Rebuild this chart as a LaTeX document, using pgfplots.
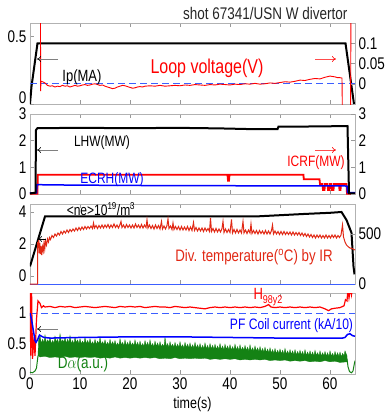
\documentclass[border=0pt]{standalone}
\usepackage{fontspec}
\setmainfont{Liberation Sans}
\usepackage{graphicx}
\usepackage{pgfplots}
\pgfplotsset{compat=1.18}
\usetikzlibrary{arrows.meta}
\definecolor{tred}{RGB}{225,40,20}
\definecolor{dgreen}{RGB}{20,130,20}
\definecolor{lblue}{RGB}{60,95,255}
\newcommand\T[1]{\scalebox{1}[1.25]{#1}}
\pgfplotsset{
  panel/.style={scale only axis, width=325pt, xmin=0, xmax=65, xtick={0,10,...,60},
    tick align=inside, axis line style={gray!60}, major tick style={gray!80, line width=0.5pt},
    major tick length=4pt, anchor=south west,
    tick label style={font=\fontsize{13.5}{16}\selectfont, inner ysep=0.5pt}},
  leftp/.style={panel, ytick pos=left, xtick pos=both, xticklabels={}},
  rightp/.style={panel, axis line style={draw=none}, ytick pos=right, xtick=\empty},
}
\begin{document}
\begin{tikzpicture}
\useasboundingbox (0,0) rectangle (388pt,-416pt);
% ---------------- Panel 1 ----------------
\begin{axis}[leftp, at={(30pt,-104pt)}, height=81pt, ymin=0, ymax=0.6,
  ytick={0.5}, yticklabels={\T{0.5}},
  extra y ticks={0}, extra y tick labels={\T{0}},
  extra y tick style={yticklabel style={yshift=6pt}}]
\addplot[black, line width=2pt] coordinates {(0,0)(0.3,0.13)(1.5,0.45)(63.1,0.45)(64.8,0)};
\end{axis}
\begin{axis}[rightp, at={(30pt,-104pt)}, height=81pt, ymin=-0.05, ymax=0.15,
  ytick={0,0.05,0.1}, yticklabels={\T{0},\T{0.05},\T{0.1}}]
\addplot[draw=lblue, dash pattern=on 7pt off 4pt, line width=1.2pt] coordinates {(0,0)(65,0)};
\addplot[red, line width=0.9pt] coordinates {(2.1,0.2)(2.12,-0.018)(2.2,0.006)(2.5,0.005)(3,0.002)(3.5,-0.004)(4,-0.006)(4.5,-0.005)(5,-0.008)(5.5,-0.006)(6,-0.007)(6.5,-0.004)(7,-0.006)(7.5,-0.005)(8,-0.008)(8.5,-0.006)(9,-0.004)(9.5,-0.006)(10,-0.005)(10.5,-0.003)(11,-0.002)(11.5,-0.004)(12,-0.003)(12.5,-0.001)(13,0.000)(13.5,-0.002)(14,-0.004)(14.5,-0.003)(15,-0.006)(15.5,-0.008)(16,-0.010)(16.5,-0.012)(17,-0.011)(17.5,-0.008)(18,-0.006)(18.5,-0.004)(19,-0.005)(19.5,-0.007)(20,-0.009)(20.5,-0.011)(21,-0.010)(21.5,-0.008)(22,-0.007)(22.5,-0.008)(23,-0.006)(24,-0.005)(25,-0.006)(26,-0.004)(27,-0.006)(28,-0.005)(29,-0.004)(30,-0.005)(31,-0.003)(32,-0.004)(33,-0.002)(34,-0.003)(35,-0.004)(36,-0.002)(37,-0.003)(38,-0.001)(39,-0.002)(40,-0.003)(41,-0.001)(42,-0.002)(43,0.000)(44,-0.001)(45,0.001)(46,-0.001)(47,0.000)(48,0.002)(49,0.001)(50,0.003)(51,0.005)(52,0.004)(53,0.006)(54,0.009)(55,0.008)(56,0.011)(57,0.013)(58,0.012)(59,0.016)(60,0.019)(60.5,0.018)(61,0.017)(61.5,0.015)(62,0.015)(62.4,0.014)(62.5,-0.1)(64.1,-0.1)(64.2,0.2)};
\end{axis}
% ---------------- Panel 2 ----------------
\begin{axis}[leftp, at={(30pt,-194pt)}, height=80pt, ymin=0, ymax=3,
  ytick={0,1,2,3}, yticklabels={\T{0},\T{1},\T{2},\T{3}}]
\addplot[red, line width=1.8pt] coordinates {(0,0.01)(1.5,0.01)(1.55,0.72)(39.5,0.72)(39.6,0.5)(39.8,0.5)(39.9,0.72)(54.7,0.72)(54.75,0.55)(57.9,0.55)(58,0.37)(58.5,0.37)(58.6,0.15)(58.9,0.15)(59,0.37)(59.5,0.37)(59.6,0.15)(59.9,0.15)(60,0.37)(60.3,0.37)(60.4,0.15)(60.7,0.15)(60.8,0.37)(61.8,0.37)(61.9,0.15)(62.1,0.15)(62.2,0.37)(63.3,0.37)(63.4,0.01)(65,0.01)};
\addplot[blue, line width=1.5pt] coordinates {(0,0.04)(1.3,0.04)(1.4,0.35)(5,0.34)(20,0.32)(40,0.31)(63.4,0.3)(63.5,0.05)(65,0.05)};
\addplot[black, line width=2pt] coordinates {(0,0.02)(1.1,0.05)(1.2,2.4)(1.5,2.47)(10,2.48)(20,2.47)(30,2.48)(38,2.46)(45,2.43)(49.5,2.43)(49.7,2.53)(55,2.53)(60,2.54)(63.5,2.55)(63.8,0.03)(65,0.02)};
\end{axis}
\begin{axis}[rightp, at={(30pt,-194pt)}, height=80pt, ymin=0, ymax=3,
  ytick={0,1,2,3}, yticklabels={\T{0},\T{1},\T{2},\T{3}}]
\end{axis}
% ---------------- Panel 3 ----------------
\begin{axis}[leftp, at={(30pt,-284pt)}, height=80pt, ymin=-0.5, ymax=4.5,
  ytick={0,2,4}, yticklabels={\T{0},\T{2},\T{4}}]
\addplot[black, line width=2pt] coordinates {(0,0.6)(3.0,3.72)(45,3.72)(50,3.8)(55,3.88)(60,3.95)(62.3,4.0)(63.3,3.5)(64.3,2.7)(64.7,0.6)(64.9,0.1)};
\end{axis}
\begin{axis}[rightp, at={(30pt,-284pt)}, height=80pt, ymin=0, ymax=800,
  ytick={0,500}, yticklabels={\T{0},\T{500}}]
\addplot[draw=lblue, line width=0.8pt] coordinates {(0,0)(65,0)};
\addplot[tred, line width=1pt] coordinates {(0,0)(1.5,0)(1.55,420)(1.65,360)(1.75,440)(1.85,310)(1.95,410)(2.05,300)(2.2,380)(2.35,290)(2.5,370)(2.65,330)(2.8,410)(2.95,350)(3.1,430)(3.3,390)(3.5,450)(3.7,420)(3.9,465)(4.1,445)(4.4,485)(4.7,465)(5.0,500)(5.3,480)(5.6,510)(5.9,490)(6.2,525)(6.5,500)(6.8,530)(7.1,510)(7.4,540)(7.7,515)(8.0,545)(8.3,525)(8.6,550)(8.9,530)(9.2,560)(9.5,535)(9.8,565)(10.1,540)(10.4,570)(10.7,545)(11.0,575)(11.3,550)(11.6,575)(11.9,555)(12.2,580)(12.5,555)(12.7,610)(12.9,560)(13.2,585)(13.5,555)(13.8,585)(14.1,560)(14.4,590)(14.7,560)(15.0,590)(15.3,565)(15.6,595)(15.9,560)(16.2,590)(16.5,565)(16.8,600)(17.1,565)(17.4,590)(17.7,560)(18.0,595)(18.2,625)(18.4,565)(18.7,590)(19.0,560)(19.3,595)(19.6,565)(19.9,590)(20.2,560)(20.5,590)(20.8,560)(21.1,600)(21.4,565)(21.7,590)(22.0,560)(22.3,595)(22.6,560)(22.9,590)(23.2,565)(23.4,640)(23.6,560)(23.9,590)(24.2,555)(24.5,585)(24.8,550)(25.1,590)(25.4,555)(25.7,585)(26.0,550)(26.3,625)(26.5,550)(26.8,580)(27.1,550)(27.4,585)(27.6,650)(27.8,555)(28.1,580)(28.4,545)(28.6,610)(28.8,545)(29.1,575)(29.4,545)(29.7,575)(30.0,540)(30.3,575)(30.6,540)(30.9,570)(31.2,540)(31.5,575)(31.8,535)(32.1,570)(32.4,535)(32.7,615)(32.9,535)(33.2,565)(33.5,530)(33.8,560)(34.1,530)(34.4,560)(34.7,525)(35.0,560)(35.3,530)(35.6,555)(35.9,525)(36.1,660)(36.3,525)(36.6,555)(36.9,520)(37.2,555)(37.5,520)(37.8,550)(38.1,520)(38.4,555)(38.6,625)(38.8,515)(39.1,550)(39.4,515)(39.7,545)(40.0,515)(40.3,645)(40.5,510)(40.8,545)(41.1,510)(41.4,545)(41.7,510)(42.0,540)(42.3,510)(42.6,625)(42.8,510)(43.1,540)(43.4,505)(43.7,540)(44.0,510)(44.2,600)(44.4,505)(44.7,535)(45.0,505)(45.3,535)(45.6,500)(45.9,535)(46.2,505)(46.5,530)(46.8,500)(47.1,535)(47.4,500)(47.7,530)(48.0,500)(48.3,535)(48.5,590)(48.7,500)(49.0,530)(49.3,500)(49.6,525)(49.9,495)(50.2,525)(50.5,495)(50.8,525)(51.1,495)(51.4,520)(51.7,495)(52.0,520)(52.3,490)(52.6,520)(52.9,490)(53.2,515)(53.5,490)(53.8,515)(54.1,485)(54.4,510)(54.7,480)(55.0,505)(55.3,475)(55.6,500)(55.9,470)(56.2,495)(56.5,465)(56.8,490)(57.1,460)(57.4,490)(57.7,465)(58.0,490)(58.3,460)(58.6,485)(58.9,460)(59.2,490)(59.5,460)(59.8,485)(60.1,460)(60.4,490)(60.7,465)(61.0,490)(61.3,460)(61.6,485)(61.9,465)(62.2,490)(62.5,590)(62.7,470)(63.0,420)(63.3,390)(63.6,375)(64.0,360)(64.4,355)(64.8,345)(65,340)};
\end{axis}
% ---------------- Panel 4 ----------------
\begin{axis}[panel, ytick pos=left, xtick pos=both, xticklabel pos=bottom,
  at={(30pt,-374pt)}, height=81pt, ymin=0, ymax=1.33,
  ytick={0,0.5,1}, yticklabels={\T{0},\T{0.5},\T{1}},
  xticklabels={\T{0},\T{10},\T{20},\T{30},\T{40},\T{50},\T{60}},
  xticklabel style={yshift=-3pt},
  xlabel={\T{time(s)}}, xlabel style={font=\fontsize{12.5}{14}\selectfont, yshift=-3pt}]
\addplot[dgreen, fill=dgreen, line width=0.3pt] coordinates {(1.6,0.3)(1.7,0.55)(2,0.62)(2.3,0.5)(2.5,0.57)(2.8,0.52)(3,0.64)(3.3,0.5)(3.5,0.56)(3.8,0.53)(4,0.6)(4.3,0.49)(4.5,0.55)(4.8,0.51)(5,0.62)(5.3,0.52)(5.5,0.57)(5.8,0.5)(6,0.66)(6.3,0.51)(6.5,0.56)(6.8,0.53)(7,0.6)(7.3,0.5)(7.5,0.57)(7.8,0.52)(8,0.63)(8.3,0.49)(8.5,0.55)(8.8,0.5)(9,0.6)(9.3,0.51)(9.5,0.56)(9.8,0.5)(10,0.58)(10.3,0.49)(10.5,0.54)(10.8,0.5)(11,0.6)(11.3,0.49)(11.5,0.55)(11.8,0.5)(12,0.58)(12.3,0.48)(12.5,0.53)(12.8,0.49)(13,0.57)(13.3,0.48)(13.5,0.54)(13.8,0.5)(14,0.6)(14.3,0.48)(14.5,0.53)(14.8,0.49)(15,0.56)(15.3,0.47)(15.5,0.52)(15.8,0.48)(16,0.57)(16.3,0.47)(16.5,0.53)(16.8,0.48)(17,0.55)(17.3,0.46)(17.5,0.51)(17.8,0.47)(18,0.58)(18.3,0.47)(18.5,0.52)(18.8,0.47)(19,0.56)(19.3,0.46)(19.5,0.52)(19.8,0.47)(20,0.55)(20.3,0.46)(20.5,0.51)(20.8,0.47)(21,0.56)(21.3,0.46)(21.5,0.52)(21.8,0.46)(22,0.54)(22.3,0.45)(22.5,0.5)(22.8,0.46)(23,0.55)(23.3,0.46)(23.5,0.52)(23.8,0.46)(24,0.56)(24.3,0.45)(24.5,0.5)(24.8,0.45)(25,0.54)(25.3,0.45)(25.5,0.51)(25.8,0.45)(26,0.53)(26.3,0.44)(26.5,0.49)(26.8,0.45)(27,0.6)(27.3,0.44)(27.5,0.5)(27.8,0.44)(28,0.53)(28.3,0.44)(28.5,0.49)(28.8,0.44)(29,0.52)(29.3,0.43)(29.5,0.49)(29.8,0.44)(30,0.53)(30.3,0.43)(30.5,0.48)(30.8,0.43)(31,0.52)(31.3,0.43)(31.5,0.49)(31.8,0.43)(32,0.51)(32.3,0.42)(32.5,0.48)(32.8,0.43)(33,0.52)(33.3,0.42)(33.5,0.48)(33.8,0.42)(34,0.5)(34.3,0.41)(34.5,0.47)(34.8,0.42)(35,0.51)(35.3,0.41)(35.5,0.47)(35.8,0.41)(36,0.5)(36.3,0.41)(36.5,0.47)(36.8,0.41)(37,0.49)(37.3,0.4)(37.5,0.46)(37.8,0.41)(38,0.5)(38.3,0.4)(38.5,0.46)(38.8,0.4)(39,0.49)(39.3,0.4)(39.5,0.46)(39.8,0.4)(40,0.48)(40.3,0.39)(40.5,0.45)(40.8,0.4)(41,0.49)(41.3,0.39)(41.5,0.45)(41.8,0.39)(42,0.48)(42.3,0.38)(42.5,0.44)(42.8,0.39)(43,0.47)(43.3,0.38)(43.5,0.44)(43.8,0.38)(44,0.48)(44.3,0.37)(44.5,0.43)(44.8,0.38)(45,0.46)(45.3,0.37)(45.5,0.43)(45.8,0.37)(46,0.45)(46.3,0.36)(46.5,0.42)(46.8,0.36)(47,0.44)(47.3,0.35)(47.5,0.41)(47.8,0.35)(48,0.43)(48.3,0.34)(48.5,0.4)(48.8,0.34)(49,0.42)(49.3,0.33)(49.5,0.39)(49.8,0.34)(50,0.41)(50.3,0.33)(50.5,0.39)(50.8,0.33)(51,0.42)(51.3,0.32)(51.5,0.38)(51.8,0.33)(52,0.4)(52.3,0.32)(52.5,0.38)(52.8,0.32)(53,0.4)(53.3,0.31)(53.5,0.37)(53.8,0.32)(54,0.39)(54.3,0.31)(54.5,0.37)(54.8,0.31)(55,0.4)(55.3,0.3)(55.5,0.36)(55.8,0.31)(56,0.38)(56.3,0.3)(56.5,0.36)(56.8,0.3)(57,0.39)(57.3,0.3)(57.5,0.35)(57.8,0.3)(58,0.38)(58.3,0.29)(58.5,0.35)(58.8,0.3)(59,0.37)(59.3,0.29)(59.5,0.35)(59.8,0.29)(60,0.38)(60.3,0.29)(60.5,0.34)(60.8,0.29)(61,0.37)(61.3,0.29)(61.5,0.35)(61.8,0.29)(62,0.36)(62.3,0.28)(62.5,0.34)(62.8,0.3)(63,0.38)(63.4,0.3)(63.4,0.2)(62,0.19)(61,0.21)(60,0.2)(59,0.22)(58,0.2)(57,0.21)(56,0.2)(55,0.22)(54,0.21)(53,0.22)(52,0.21)(51,0.23)(50,0.22)(49,0.23)(48,0.22)(47,0.24)(46,0.23)(45,0.24)(44,0.23)(43,0.24)(42,0.23)(41,0.25)(40,0.24)(39,0.25)(38,0.24)(37,0.25)(36,0.24)(35,0.26)(34,0.25)(33,0.26)(32,0.25)(31,0.26)(30,0.25)(29,0.27)(28,0.25)(27,0.26)(26,0.25)(25,0.27)(24,0.26)(23,0.27)(22,0.26)(21,0.27)(20,0.26)(19,0.27)(18,0.26)(17,0.28)(16,0.26)(15,0.27)(14,0.26)(13,0.28)(12,0.27)(11,0.28)(10,0.27)(9,0.28)(8,0.27)(7,0.29)(6,0.27)(5,0.28)(4,0.27)(3,0.29)(2,0.28)(1.6,0.3)} -- cycle;
\addplot[dgreen, line width=1pt] coordinates {(0,0.03)(0.5,0.02)(1.0,0.05)(1.3,0.1)(1.6,0.3)};
\addplot[dgreen, line width=1pt] coordinates {(63.4,0.25)(63.6,0.12)(63.9,0.04)(64.3,0.02)(64.6,0.05)(64.9,0.18)(65,0.22)};
\addplot[draw=lblue, dash pattern=on 7pt off 4pt, line width=1.2pt] coordinates {(0,1)(65,1)};
\addplot[red, line width=1.2pt] coordinates {(0,1.45)(0.15,0.3)(0.3,1.45)(0.5,0.25)(0.8,0.6)(1.0,0.3)(1.3,0.9)(1.6,1.2)(2.0,1.16)(2.3,1.09)(2.7,1.12)(3,1.10)(4,1.11)(5,1.09)(6,1.11)(7,1.10)(8,1.11)(9,1.09)(10,1.10)(11,1.11)(12,1.10)(13,1.09)(14,1.10)(15,1.11)(16,1.10)(17,1.09)(18,1.11)(19,1.10)(20,1.11)(21,1.10)(22,1.11)(23,1.09)(24,1.10)(25,1.11)(26,1.10)(27,1.10)(28,1.09)(29,1.11)(30,1.10)(31,1.09)(32,1.10)(33,1.09)(34,1.08)(35,1.07)(36,1.09)(37,1.10)(38,1.09)(39,1.10)(40,1.09)(41,1.10)(42,1.09)(43,1.10)(44,1.09)(45,1.10)(46,1.09)(47,1.11)(47.7,1.14)(48.2,1.10)(49,1.09)(50,1.10)(51,1.09)(52,1.10)(53,1.09)(54,1.10)(55,1.09)(56,1.10)(57,1.09)(58,1.10)(59,1.07)(59.7,1.04)(60.3,1.07)(61,1.08)(62,1.09)(62.8,1.12)(63.1,1.22)(63.4,1.2)(63.6,1.4)(63.8,1.25)(64.1,1.4)(64.3,1.3)(64.5,1.4)(64.7,1.5)};
\addplot[blue, line width=1.5pt] coordinates {(0,1.0)(0.3,0.9)(0.6,0.75)(1.0,0.55)(1.2,0.52)(1.5,0.56)(1.9,0.64)(2.3,0.62)(2.8,0.6)(4,0.59)(10,0.6)(20,0.61)(30,0.61)(40,0.6)(50,0.59)(60,0.59)(62.5,0.59)(63,0.6)(63.5,0.65)(64,0.66)(64.5,0.63)(65,0.62)};
\end{axis}
% ---------------- Annotations ----------------
\node[anchor=east, font=\fontsize{13.5}{16}\selectfont, text=black!85] at (351pt,-13pt) {\T{shot 67341/USN W divertor}};
% panel 1
\node[font=\fontsize{13}{15}\selectfont] at (82pt,-77pt) {\T{Ip(MA)}};
\node[font=\fontsize{16}{18}\selectfont, text=red] at (207pt,-68pt) {\T{Loop voltage(V)}};
\draw[gray, line width=0.6pt, -{To[black,length=4pt,width=6pt]}] (58pt,-59pt) -- (37pt,-59pt);
\draw[red!70, line width=0.6pt, -{To[red,length=4pt,width=6pt]}] (315pt,-59pt) -- (336pt,-59pt);
% panel 2
\node[font=\fontsize{12}{14}\selectfont] at (102pt,-143pt) {\T{LHW(MW)}};
\node[font=\fontsize{12}{14}\selectfont, text=red] at (316pt,-163pt) {\T{ICRF(MW)}};
\node[font=\fontsize{12}{14}\selectfont, text=blue] at (112pt,-180pt) {\T{ECRH(MW)}};
\draw[gray, line width=0.6pt, -{To[black,length=4pt,width=6pt]}] (58pt,-150pt) -- (37pt,-150pt);
\draw[red!70, line width=0.6pt, -{To[red,length=4pt,width=6pt]}] (315pt,-150pt) -- (336pt,-150pt);
% panel 3
\node[font=\fontsize{12}{14}\selectfont] at (101pt,-209pt) {\T{<ne>10\textsuperscript{19}/m\textsuperscript{3}}};
\node[font=\fontsize{13.3}{15}\selectfont, text=tred] at (254pt,-257pt) {\T{Div. temperature(\textsuperscript{o}C) by IR}};
\draw[black, line width=0.6pt, -{To[black,length=4pt,width=6pt]}] (46pt,-239pt) -- (38pt,-239pt);
% panel 4
\node[font=\fontsize{13}{15}\selectfont, text=red] at (268pt,-297pt) {\T{H\raisebox{-0.45ex}{\fontsize{9}{10}\selectfont 98y2}}};
\node[font=\fontsize{12.1}{14}\selectfont, text=blue] at (291.5pt,-326pt) {\T{PF Coil current (kA/10)}};
\node[font=\fontsize{13.5}{15}\selectfont, text=dgreen] at (83pt,-364pt) {\T{D$\alpha$(a.u.)}};
\draw[gray, line width=0.6pt, -{To[black,length=4pt,width=6pt]}] (58pt,-329pt) -- (37pt,-329pt);
\end{tikzpicture}
\end{document}
